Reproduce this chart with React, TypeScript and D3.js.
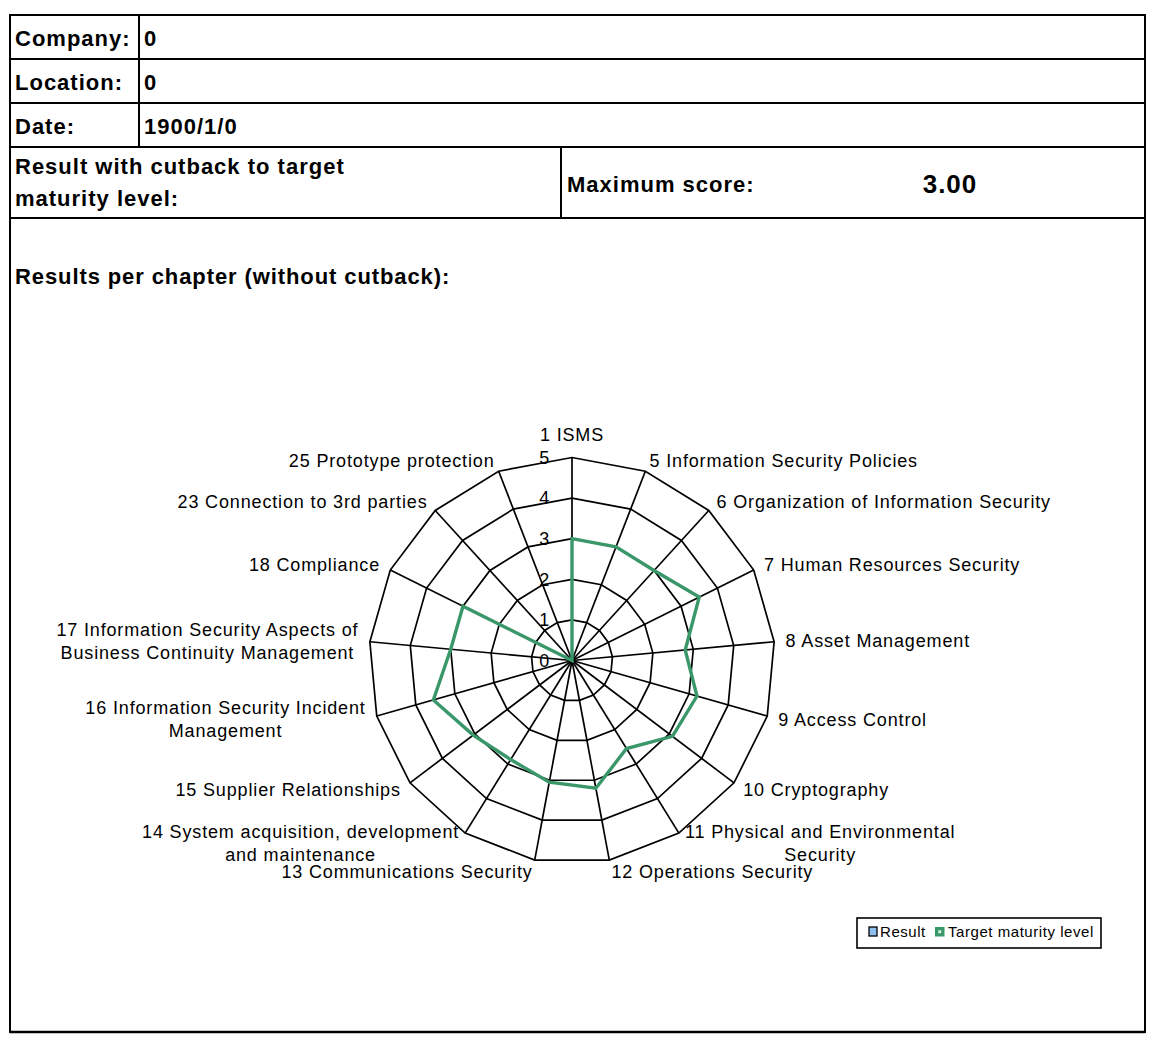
import React, { useEffect, useRef } from "react";
import * as d3 from "d3";

// ---- data ----
const categoryLines: string[][] = [
  ["1 ISMS"],
  ["5 Information Security Policies"],
  ["6 Organization of Information Security"],
  ["7 Human Resources Security"],
  ["8 Asset Management"],
  ["9 Access Control"],
  ["10 Cryptography"],
  ["11 Physical and Environmental", "Security"],
  ["12 Operations Security"],
  ["13 Communications Security"],
  ["14 System acquisition, development", "and maintenance"],
  ["15 Supplier Relationships"],
  ["16 Information Security Incident", "Management"],
  ["17 Information Security Aspects of", "Business Continuity Management"],
  ["18 Compliance"],
  ["23 Connection to 3rd parties"],
  ["25 Prototype protection"],
];
const resultValues = [0, 0, 0, 0, 0, 0, 0, 0, 0, 0, 0, 0, 0, 0, 0, 0, 0];
const targetValues = [3, 3, 3, 3.5, 2.8, 3.2, 3.1, 2.55, 3.2, 3.05, 2.87, 3.05, 3.55, 3, 3, 0, 0];
const tickValues = [0, 1, 2, 3, 4, 5];

const headerRows = [
  { label: "Company:", value: "0" },
  { label: "Location:", value: "0" },
  { label: "Date:", value: "1900/1/0" },
];
const resultLabelLines = ["Result with cutback to target", "maturity level:"];
const maxScoreLabel = "Maximum score:";
const maxScoreValue = "3.00";
const chartTitle = "Results per chapter (without cutback):";
const legendItems = ["Result", "Target maturity level"];

const FONT = "'Liberation Sans', Arial, sans-serif";
const GREEN = "#3a976a";
const BLUE = "#8fbfef";

export default function App() {
  const ref = useRef<SVGSVGElement | null>(null);

  useEffect(() => {
    const svg = d3.select(ref.current);
    svg.selectAll("*").remove();

    // ---- table frame ----
    const L = 10, R = 1145, T = 15, B = 1032;
    const g = svg.append("g");
    const line = (x1: number, y1: number, x2: number, y2: number, w = 2) =>
      g.append("line").attr("x1", x1).attr("y1", y1).attr("x2", x2).attr("y2", y2)
        .attr("stroke", "#000").attr("stroke-width", w);
    g.append("rect").attr("x", L).attr("y", T).attr("width", R - L).attr("height", B - T)
      .attr("fill", "none").attr("stroke", "#000").attr("stroke-width", 2);
    line(L, B, R, B, 2.6);
    [59, 103, 147, 218].forEach((y) => line(L, y, R, y));
    line(139, T, 139, 147);
    line(561, 147, 561, 218);

    const boldText = (x: number, y: number, s: string, size = 22, ls = 1, anchor = "start") =>
      g.append("text").attr("x", x).attr("y", y).text(s)
        .attr("font-family", FONT).attr("font-weight", "bold").attr("font-size", size)
        .attr("letter-spacing", ls).attr("text-anchor", anchor).attr("fill", "#000");

    headerRows.forEach((r, i) => {
      const yc = 38 + i * 44;
      boldText(15, yc + 8, r.label);
      boldText(144, yc + 8, r.value);
    });
    resultLabelLines.forEach((s, i) => boldText(15, 174 + i * 32, s));
    boldText(567, 192, maxScoreLabel);
    boldText(950, 193, maxScoreValue, 26, 1, "middle");
    boldText(15, 284, chartTitle, 22, 0.9);

    // ---- radar ----
    const cx = 572, cy = 660.5;
    const n = categoryLines.length;
    const r = d3.scaleLinear().domain([0, 5]).range([0, 203]);
    const angle = (i: number) => (2 * Math.PI * i) / n;
    const chart = svg.append("g").attr("transform", `translate(${cx},${cy})`);

    const ringLine = d3.lineRadial<number>()
      .angle((_, i) => angle(i))
      .radius((v) => r(v))
      .curve(d3.curveLinearClosed);

    // rings
    tickValues.filter((t) => t > 0).forEach((t) => {
      chart.append("path").attr("d", ringLine(d3.range(n).map(() => t)) as string)
        .attr("fill", "none").attr("stroke", "#000").attr("stroke-width", 1.7);
    });
    // spokes
    d3.range(n).forEach((i) => {
      const a = angle(i);
      chart.append("line").attr("x1", 0).attr("y1", 0)
        .attr("x2", Math.sin(a) * r(5)).attr("y2", -Math.cos(a) * r(5))
        .attr("stroke", "#000").attr("stroke-width", 1.7);
    });

    // series
    chart.append("path").attr("d", ringLine(resultValues) as string)
      .attr("fill", "none").attr("stroke", BLUE).attr("stroke-width", 3);
    chart.append("path").attr("d", ringLine(targetValues) as string)
      .attr("fill", "none").attr("stroke", GREEN).attr("stroke-width", 3.4)
      .attr("stroke-linejoin", "miter");

    // tick labels
    tickValues.forEach((t) => {
      chart.append("text").attr("x", -22).attr("y", -r(t)).attr("dy", "0.35em")
        .attr("text-anchor", "end").attr("font-family", FONT).attr("font-size", 18)
        .attr("letter-spacing", 0.8).text(String(t));
    });

    // category labels
    const LH = 23;
    categoryLines.forEach((lines, i) => {
      const a = angle(i);
      const sx = Math.sin(a), cyA = Math.cos(a);
      const ex = sx * r(5), ey = -cyA * r(5);
      const px = ex + 11.5 * sx;
      const py = ey - 11.5 * cyA;
      const txt = chart.append("text").attr("font-family", FONT).attr("font-size", 18)
        .attr("letter-spacing", 0.85).attr("fill", "#000");
      if (Math.abs(sx) < 0.05) {
        txt.attr("x", ex).attr("y", ey - 23).attr("dy", "0.35em")
          .attr("text-anchor", "middle").text(lines[0]);
        return;
      }
      const right = sx > 0;
      const spans = lines.map((s, k) =>
        txt.append("tspan").attr("y", py + (k - (lines.length - 1) / 2) * LH)
          .attr("dy", "0.35em").text(s)
      );
      if (lines.length === 1) {
        spans[0].attr("x", px).attr("text-anchor", right ? "start" : "end");
      } else {
        const widths = spans.map((sp) => (sp.node() as SVGTextContentElement).getComputedTextLength());
        const w = Math.max(...widths);
        const mid = right ? px + w / 2 : px - w / 2;
        spans.forEach((sp) => sp.attr("x", mid).attr("text-anchor", "middle"));
      }
    });

    // ---- legend ----
    const lg = svg.append("g");
    lg.append("rect").attr("x", 857).attr("y", 918).attr("width", 244).attr("height", 30)
      .attr("fill", "#fff").attr("stroke", "#000").attr("stroke-width", 1.6);
    lg.append("rect").attr("x", 869).attr("y", 927).attr("width", 8).attr("height", 9)
      .attr("fill", BLUE).attr("stroke", "#000").attr("stroke-width", 1.3);
    lg.append("rect").attr("x", 935).attr("y", 927).attr("width", 9.5).attr("height", 9.5)
      .attr("fill", GREEN);
    lg.append("rect").attr("x", 938.2).attr("y", 930.2).attr("width", 3).attr("height", 3)
      .attr("fill", "#d6eedf");
    const legendX = [880, 948];
    legendItems.forEach((s, i) => {
      lg.append("text").attr("x", legendX[i]).attr("y", 937).text(s)
        .attr("font-family", FONT).attr("font-size", 15).attr("letter-spacing", 0.55);
    });
  }, []);

  return (
    <svg
      ref={ref}
      width={1162}
      height={1048}
      style={{ position: "absolute", left: 0, top: 0, background: "#fff" }}
    />
  );
}
